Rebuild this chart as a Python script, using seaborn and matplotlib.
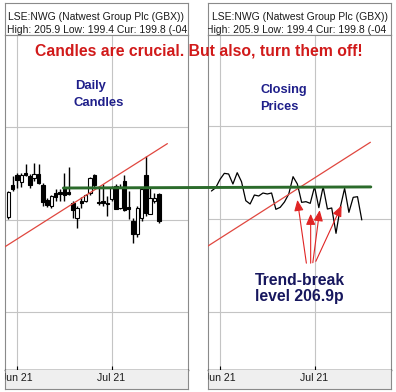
import numpy as np
import pandas as pd
import matplotlib
matplotlib.use("Agg")
import matplotlib.pyplot as plt
import matplotlib.transforms as mtrans
from matplotlib.patches import ConnectionPatch
import seaborn as sns

# ---------------- data ----------------
dates = ["2021-05-27", "2021-05-28",
         "2021-06-01", "2021-06-02", "2021-06-03", "2021-06-04", "2021-06-07",
         "2021-06-08", "2021-06-09", "2021-06-10", "2021-06-11", "2021-06-14",
         "2021-06-15", "2021-06-16", "2021-06-17", "2021-06-18", "2021-06-21",
         "2021-06-22", "2021-06-23", "2021-06-24", "2021-06-25", "2021-06-28",
         "2021-06-29", "2021-06-30",
         "2021-07-01", "2021-07-02", "2021-07-05", "2021-07-06", "2021-07-07",
         "2021-07-08", "2021-07-09", "2021-07-12", "2021-07-13", "2021-07-14",
         "2021-07-15", "2021-07-16"]
opens = [200.65, 207.53, 209.82, 208.24, 210.18, 209.46, 208.96, 209.96, 207.53, 204.23,
         203.01, 205.73, 206.09, 207.10, 206.02, 203.73, 200.36, 204.09, 204.09, 205.88,
         209.68, 203.87, 204.09, 203.73, 204.44, 207.31, 202.65, 208.39, 202.80, 199.78,
         196.92, 200.50, 209.82, 201.36, 204.09, 205.70]
highs = [206.24, 209.46, 210.18, 210.18, 212.11, 209.96, 212.33, 212.11, 208.03, 204.66,
         205.38, 206.59, 206.59, 210.18, 211.40, 204.09, 203.01, 204.95, 205.66, 209.25,
         209.96, 207.17, 207.67, 205.16, 207.31, 207.67, 207.67, 209.82, 206.24, 200.50,
         203.01, 206.95, 213.76, 206.95, 205.88, 205.90]
lows = [200.29, 206.24, 206.95, 207.10, 209.46, 206.95, 208.39, 207.67, 203.01, 202.87,
        202.51, 204.09, 204.09, 204.09, 205.38, 200.50, 198.35, 202.65, 203.94, 205.38,
        206.95, 203.15, 203.01, 200.86, 204.09, 202.29, 202.29, 201.94, 200.14, 194.98,
        196.20, 199.78, 200.86, 201.22, 203.73, 199.40]
closes = [206.02, 206.74, 208.53, 209.82, 209.68, 207.53, 209.96, 208.03, 203.94, 203.23,
          205.16, 204.95, 205.59, 205.38, 205.59, 202.08, 202.51, 203.66, 205.38, 209.10,
          207.53, 203.58, 203.73, 203.37, 206.95, 202.44, 206.95, 202.15, 202.37, 196.92,
          202.51, 206.59, 201.43, 204.66, 204.80, 199.80]

month_starts = ["2021-06-01", "2021-07-01"]
month_labels = ["Jun 21", "Jul 21"]
grid_prices = [180, 200, 220, 240]

break_level = 206.9
trend_x = [-2.8, 35.0]
trend_y = [194.2, 216.5]

arrow_tails = [(20.1, 190.5), (21.1, 190.5), (21.6, 190.6), (22.3, 190.9)]
arrow_heads = [(18.0, 204.1), (21.1, 201.1), (23.2, 201.9), (28.3, 202.9)]

header1 = "LSE:NWG (Natwest Group Plc (GBX))"
header2 = "High: 205.9 Low: 199.4 Cur: 199.8 (-04"
title = "Candles are crucial. But also, turn them off!"

# ---------------- derived positions ----------------
origin = dates.index("2021-06-01")
x = np.arange(len(dates)) - origin
o = np.array(opens); h = np.array(highs); l = np.array(lows); c = np.array(closes)
tick_pos = [dates.index(d) - origin for d in month_starts]

sns.set_style("white")
plt.rcParams['font.family'] = ['Liberation Sans', 'DejaVu Sans']

W, H = 396, 392
fig = plt.figure(figsize=(W / 100, H / 100), dpi=100)
fig.patch.set_facecolor("white")

BORDER = "#8a8a8a"
GRID = "#c4c4c4"
XLIM = (-2.8, 39.8)
YLIM = (167.53, 239.57)

panels = [(5, 188, 0.010), (208, 391, -0.012)]
axes = []
for (x0, x1, h2off) in panels:
    wfrac = (x1 - x0) / W
    ax_h = fig.add_axes([x0 / W, 1 - 35 / H, wfrac, 32 / H])
    ax = fig.add_axes([x0 / W, 1 - 370 / H, wfrac, 335 / H])
    ax_s = fig.add_axes([x0 / W, 1 - 389 / H, wfrac, 19 / H])

    # header
    ax_h.set_xticks([]); ax_h.set_yticks([])
    ax_h.set_facecolor("white")
    for s in ax_h.spines.values():
        s.set_color(BORDER); s.set_linewidth(0.8)
    ax_h.text(0.5, 0.56, header1, transform=ax_h.transAxes, ha='center', va='center',
              fontsize=7.5, color='#1a1a1a', clip_on=True)
    ax_h.text(h2off, 0.15, header2, transform=ax_h.transAxes, ha='left', va='center',
              fontsize=7.5, color='#1a1a1a', clip_on=True)

    # main plot
    ax.set_xlim(*XLIM); ax.set_ylim(*YLIM)
    ax.set_facecolor("white")
    ax.set_xticks(tick_pos)
    ax.set_yticks(grid_prices)
    ax.grid(True, color=GRID, lw=0.8)
    ax.set_axisbelow(True)
    ax.tick_params(axis='x', direction='in', length=3, width=0.8, color='black',
                   labelbottom=False, bottom=True)
    ax.tick_params(axis='y', left=False, labelleft=False)
    for name, s in ax.spines.items():
        s.set_color(BORDER); s.set_linewidth(0.8)
    ax.spines['bottom'].set_color('black')
    ax.spines['bottom'].set_linewidth(1.0)

    # tick strip
    ax_s.set_xlim(*XLIM); ax_s.set_ylim(0, 1)
    ax_s.set_facecolor("#efefef")
    ax_s.set_xticks([]); ax_s.set_yticks([])
    for s in ax_s.spines.values():
        s.set_color(BORDER); s.set_linewidth(0.8)
    ax_s.spines['top'].set_visible(False)
    trans = mtrans.blended_transform_factory(ax_s.transData, ax_s.transAxes)
    for p, lab in zip(tick_pos, month_labels):
        ax_s.text(p, 0.6, lab, transform=trans, ha='center', va='center',
                  fontsize=7.6, color='#1a1a1a', clip_on=True)
    axes.append(ax)

ax1, ax2 = axes

# ---------------- left: candles ----------------
up = c >= o
ax1.vlines(x, l, h, color='black', lw=1.0, zorder=3)
ax1.bar(x, np.abs(c - o), bottom=np.minimum(o, c), width=0.8,
        color=np.where(up, 'white', 'black'), edgecolor='black', linewidth=0.8, zorder=4)
ax1.plot(trend_x, trend_y, color='#e0473f', lw=0.9, zorder=5)

# ---------------- right: closing line ----------------
df = pd.DataFrame({"t": x, "close": c})
sns.lineplot(data=df, x="t", y="close", ax=ax2, color='black', lw=0.9, zorder=4)
ax2.set_xlabel(""); ax2.set_ylabel("")
ax2.set_xlim(*XLIM); ax2.set_ylim(*YLIM)
ax2.plot(trend_x, trend_y, color='#e0473f', lw=0.9, zorder=5)
for tail, head in zip(arrow_tails, arrow_heads):
    ax2.annotate('', xy=head, xytext=tail,
                 arrowprops=dict(arrowstyle='-|>,head_length=0.65,head_width=0.28',
                                 color='#e02424', lw=0.8, shrinkA=0, shrinkB=0,
                                 mutation_scale=10), zorder=6)

# ---------------- green break level across both panels ----------------
con = ConnectionPatch(xyA=(10.8, break_level), coordsA=ax1.transData,
                      xyB=(35.1, break_level), coordsB=ax2.transData,
                      color='#2b6b2b', lw=2.1)
con.set_zorder(10)
fig.add_artist(con)

# ---------------- texts ----------------
fig.text(198.5 / W, 1 - 56 / H, title, ha='center', va='baseline',
         fontsize=11.3, fontweight='bold', color='#d11a1a')
navy = '#1f1f8a'
fig.text(75 / W, 1 - 89.5 / H, "Daily", ha='left', va='baseline',
         fontsize=9.4, fontweight='bold', color=navy)
fig.text(74 / W, 1 - 106.5 / H, "Candles", ha='left', va='baseline',
         fontsize=9.4, fontweight='bold', color=navy)
fig.text(260.5 / W, 1 - 92.5 / H, "Closing", ha='left', va='baseline',
         fontsize=9.2, fontweight='bold', color=navy)
fig.text(260.5 / W, 1 - 109.5 / H, "Prices", ha='left', va='baseline',
         fontsize=9.2, fontweight='bold', color=navy)
dark_navy = '#17175e'
fig.text(255 / W, 1 - 285 / H, "Trend-break", ha='left', va='baseline',
         fontsize=11.3, fontweight='bold', color=dark_navy)
fig.text(255 / W, 1 - 301 / H, "level 206.9p", ha='left', va='baseline',
         fontsize=11.3, fontweight='bold', color=dark_navy)

fig.savefig("out.png", dpi=100)
